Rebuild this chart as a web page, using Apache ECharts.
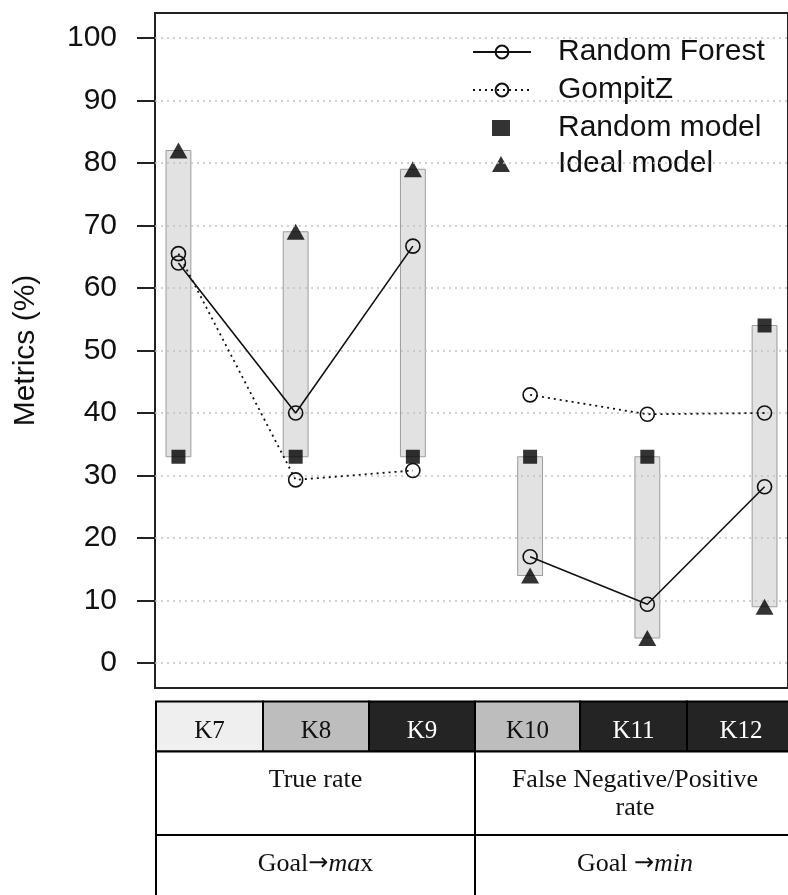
<!DOCTYPE html>
<html>
<head>
<meta charset="utf-8">
<script src="https://cdn.jsdelivr.net/npm/echarts@6/dist/echarts.min.js"></script>
<style>
html,body{margin:0;padding:0;background:#fff;}
#chart{width:788px;height:895px;}
</style>
</head>
<body>
<div id="chart"></div>
<script>
// ---- data ----
const categories = ['K7', 'K8', 'K9', 'K10', 'K11', 'K12'];
const randomForest = [64, 40, 66.7, 17, 9.4, 28.2];
const gompitZ = [65.5, 29.3, 30.8, 42.9, 39.8, 40];
const randomModel = [33, 33, 33, 33, 33, 54];
const idealModel = [82, 69, 79, 14, 4, 9];
const rangeLow = [33, 33, 33, 14, 4, 9];
const rangeHigh = [82, 69, 79, 33, 33, 54];
const yTicks = [0, 10, 20, 30, 40, 50, 60, 70, 80, 90, 100];
const groupLabels = ['True rate', 'False Negative/Positive\nrate'];
const goalLabels = ['{n|Goal}{a|\u2192}{i|ma}{n|x}', '{n|Goal }{a|\u2192}{i|min}'];
const groupCount = [3, 3]; // categories per group (lines are not joined across groups)

// ---- styles / layout ----
const cellFill = ['#efefef', '#bdbdbd', '#242424', '#bdbdbd', '#242424', '#242424'];
const cellText = ['#111', '#111', '#fff', '#111', '#fff', '#fff'];
const cellEdges = [156, 263, 369, 475, 580, 687, 795];
const rowEdges = [701.5, 751.5, 835, 905];
const groupEdges = [156, 475, 795];
const SANS = 'Liberation Sans, Arial, sans-serif';
const SERIF = 'Liberation Serif, Times New Roman, serif';
const FS = 30;

const xy = arr => arr.map((v, i) => [i + 1, v]);
const xyPart = (arr, from, n) => arr.slice(from, from + n).map((v, k) => [from + k + 1, v]);

const graphics = [];
for (let i = 0; i < categories.length; i++) {
  graphics.push({
    type: 'rect', silent: true, z: 10,
    shape: { x: cellEdges[i], y: rowEdges[0], width: cellEdges[i + 1] - cellEdges[i], height: rowEdges[1] - rowEdges[0] },
    style: { fill: cellFill[i], stroke: '#000', lineWidth: 2 }
  });
  graphics.push({
    type: 'text', silent: true, z: 11,
    x: (cellEdges[i] + cellEdges[i + 1]) / 2, y: 731,
    style: { text: categories[i], fill: cellText[i], font: '25px ' + SERIF, align: 'center', verticalAlign: 'middle' }
  });
}
for (let g = 0; g < 2; g++) {
  const cx = (groupEdges[g] + groupEdges[g + 1]) / 2;
  graphics.push({
    type: 'rect', silent: true, z: 10,
    shape: { x: groupEdges[g], y: rowEdges[1], width: groupEdges[g + 1] - groupEdges[g], height: rowEdges[2] - rowEdges[1] },
    style: { fill: '#fff', stroke: '#000', lineWidth: 2 }
  });
  graphics.push({
    type: 'rect', silent: true, z: 10,
    shape: { x: groupEdges[g], y: rowEdges[2], width: groupEdges[g + 1] - groupEdges[g], height: rowEdges[3] - rowEdges[2] },
    style: { fill: '#fff', stroke: '#000', lineWidth: 2 }
  });
  graphics.push({
    type: 'text', silent: true, z: 11,
    x: cx, y: 766,
    style: { text: groupLabels[g], fill: '#111', font: '26px ' + SERIF, align: 'center', verticalAlign: 'top', lineHeight: 28 }
  });
  graphics.push({
    type: 'text', silent: true, z: 11,
    x: cx, y: 864,
    style: {
      text: goalLabels[g], align: 'center', verticalAlign: 'middle',
      rich: {
        n: { fontFamily: SERIF, fontSize: 26, fill: '#111' },
        a: { fontFamily: 'DejaVu Sans, sans-serif', fontSize: 24, fill: '#111' },
        i: { fontFamily: SERIF, fontSize: 26, fontStyle: 'italic', fill: '#111' }
      }
    }
  });
}

function lineSeries(name, values, dash) {
  const out = [];
  let start = 0;
  groupCount.forEach(n => {
    out.push({
      name: name, type: 'line', z: 5,
      data: xyPart(values, start, n), symbol: 'circle', symbolSize: 14,
      itemStyle: { color: 'transparent', borderColor: '#111', borderWidth: 1.6 },
      lineStyle: { color: '#111', width: dash ? 1.8 : 1.6, type: dash ? [2, 4] : 'solid' }
    });
    start += n;
  });
  return out;
}

const chart = echarts.init(document.getElementById('chart'), null, { renderer: 'canvas' });
chart.setOption({
  animation: false,
  backgroundColor: '#fff',
  grid: {
    left: 155, top: 13, width: 636.6, height: 675,
    show: true, borderColor: '#222', borderWidth: 2, backgroundColor: 'transparent'
  },
  xAxis: { type: 'value', min: 0.8, max: 6.2, show: false },
  yAxis: {
    type: 'value', min: -4, max: 104,
    name: 'Metrics (%)', nameLocation: 'middle', nameGap: 114,
    nameTextStyle: { fontSize: FS, fontFamily: SANS, color: '#111' },
    axisLine: { show: false },
    axisTick: { show: true, inside: false, length: 18, customValues: yTicks, lineStyle: { color: '#222', width: 2 } },
    axisLabel: { show: true, customValues: yTicks, margin: 38, fontSize: FS, fontFamily: SANS, color: '#111' },
    splitLine: { show: false }
  },
  legend: [
    {
      data: ['Random Forest', 'GompitZ'],
      orient: 'vertical', left: 472, top: 37, padding: 0,
      itemWidth: 58, itemHeight: 16, itemGap: 8, selectedMode: false,
      formatter: '{t|{name}}',
      textStyle: { rich: { t: { fontSize: FS, fontFamily: SANS, color: '#111', lineHeight: 30, padding: [0, 0, 0, 22] } } }
    },
    {
      data: ['Random model', 'Ideal model'],
      orient: 'vertical', left: 492, top: 113, padding: 0,
      itemWidth: 18, itemHeight: 16, itemGap: 6, selectedMode: false,
      formatter: '{t|{name}}',
      textStyle: { rich: { t: { fontSize: FS, fontFamily: SANS, color: '#111', lineHeight: 30, padding: [0, 0, 0, 43] } } }
    }
  ],
  series: [
    {
      name: 'range', type: 'custom', z: 1, silent: true,
      data: categories.map((c, i) => [i + 1, rangeLow[i], rangeHigh[i]]),
      renderItem: function (params, api) {
        const x = api.value(0);
        const top = api.coord([x, api.value(2)]);
        const bot = api.coord([x, api.value(1)]);
        const w = api.size([0.212, 0])[0];
        return {
          type: 'rect',
          shape: { x: top[0] - w / 2, y: top[1], width: w, height: bot[1] - top[1] },
          style: { fill: '#e2e2e2', stroke: '#9c9c9c', lineWidth: 1 }
        };
      },
      markLine: {
        silent: true, symbol: ['none', 'none'], label: { show: false },
        lineStyle: { color: '#c2c2c2', width: 1.5, type: [2, 4] },
        emphasis: { disabled: true },
        data: yTicks.map(v => ({ yAxis: v }))
      }
    },
    {
      name: 'Random model', type: 'scatter', z: 4,
      data: xy(randomModel), symbol: 'rect', symbolSize: 14,
      itemStyle: { color: '#000' }
    },
    {
      name: 'Ideal model', type: 'scatter', z: 4,
      data: xy(idealModel), symbol: 'triangle', symbolSize: [18, 16],
      itemStyle: { color: '#000' }
    }
  ].concat(lineSeries('Random Forest', randomForest, false))
   .concat(lineSeries('GompitZ', gompitZ, true)),
  graphic: graphics
});
</script>
</body>
</html>
